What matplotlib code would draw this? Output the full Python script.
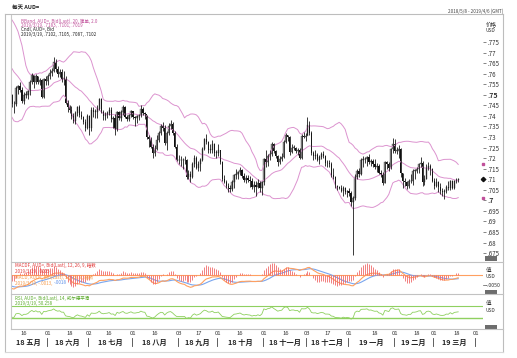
import matplotlib
matplotlib.use('Agg')
import matplotlib.pyplot as plt
import numpy as np
import pandas as pd
from matplotlib.lines import Line2D
from matplotlib.transforms import blended_transform_factory as btf

plt.rcParams['font.family'] = ['Noto Sans CJK SC', 'DejaVu Sans']

# ---------------- data (AUD=, daily, prices in 1/10000 USD) ----------------
start_date = '2018-05-08'
last_date = '2019-03-19'
axis_end = '2019-04-05'

warmup_close = [7850, 7890, 7880, 7850, 7720, 7705, 7700, 7760, 7730, 7715,
                7745, 7705, 7660, 7680, 7680, 7665, 7690, 7700, 7690, 7675,
                7690, 7750, 7770, 7750, 7750, 7785, 7775, 7790, 7750, 7665,
                7625, 7605, 7570, 7560, 7565, 7530, 7470, 7510, 7530, 7520, 7500]

closes = [
    7458, 7455, 7530, 7540, 7525, 7472, 7500, 7500, 7516, 7560, 7595, 7563, 7590, 7560, 7570, 7490, 7575, 7565,
    7590, 7605, 7615, 7655, 7620, 7600, 7610, 7575, 7575, 7460, 7440, 7430, 7400, 7375, 7415, 7440, 7405, 7395, 7370, 7345, 7400,
    7345, 7430, 7420, 7420, 7435, 7480, 7420, 7400, 7410, 7415, 7430, 7385, 7390, 7340, 7420, 7390, 7420, 7440, 7395, 7385, 7405, 7425,
    7395, 7390, 7400, 7405, 7435, 7415, 7410, 7300, 7290, 7255, 7225, 7245, 7285, 7320, 7350, 7345, 7270, 7320, 7350, 7360, 7320, 7255, 7190,
    7190, 7190, 7190, 7190, 7110, 7125, 7110, 7170, 7200, 7155, 7170, 7190, 7245, 7290, 7275, 7240, 7240, 7265, 7225, 7225,
    7240, 7180, 7100, 7085, 7070, 7060, 7055, 7085, 7120, 7125, 7135, 7145, 7115, 7095, 7105, 7095, 7090, 7065, 7075, 7065, 7080, 7060, 7085,
    7195, 7180, 7210, 7220, 7265, 7235, 7210, 7180, 7195, 7205, 7275, 7310, 7300, 7230, 7250, 7250, 7235, 7240, 7200, 7305, 7300, 7305,
    7355, 7320, 7225, 7210, 7215, 7190, 7205, 7220, 7210, 7175, 7175, 7170, 7120, 7110, 7070, 7065, 7060, 7045, 7060, 7040, 7045,
    7035, 6990, 7010, 7110, 7140, 7125, 7190, 7195, 7195, 7205, 7180, 7185, 7170, 7160, 7165, 7130, 7120, 7080, 7180, 7170, 7155, 7245, 7265,
    7235, 7235, 7245, 7130, 7090, 7085, 7070, 7090, 7090, 7140, 7140, 7150, 7170, 7175, 7085, 7100, 7155, 7165, 7150, 7090,
    7070, 7085, 7065, 7045, 7040, 7045, 7065, 7060, 7090, 7060, 7090, 7095, 7102]

highs = [
    7505, 7470, 7540, 7545, 7560, 7535, 7515, 7520, 7525, 7570, 7605, 7595, 7600, 7590, 7580, 7575, 7580, 7590,
    7600, 7620, 7625, 7677, 7670, 7635, 7620, 7620, 7615, 7590, 7475, 7450, 7445, 7415, 7425, 7445, 7450, 7425, 7400, 7385, 7410,
    7405, 7440, 7440, 7435, 7450, 7485, 7485, 7430, 7420, 7425, 7440, 7440, 7400, 7410, 7425, 7425, 7430, 7450, 7445, 7405, 7410, 7430,
    7425, 7400, 7405, 7410, 7450, 7440, 7420, 7405, 7310, 7300, 7265, 7260, 7310, 7330, 7360, 7370, 7355, 7330, 7365, 7380, 7370, 7330, 7265,
    7215, 7210, 7200, 7210, 7195, 7145, 7140, 7180, 7215, 7210, 7185, 7200, 7255, 7295, 7315, 7280, 7265, 7285, 7270, 7240,
    7265, 7240, 7185, 7120, 7095, 7080, 7075, 7095, 7125, 7150, 7140, 7160, 7150, 7130, 7120, 7120, 7115, 7105, 7090, 7090, 7100, 7090, 7090,
    7200, 7240, 7220, 7240, 7275, 7270, 7240, 7215, 7210, 7225, 7285, 7320, 7310, 7305, 7265, 7260, 7255, 7250, 7250, 7315, 7325, 7320,
    7395, 7375, 7330, 7235, 7240, 7225, 7215, 7230, 7235, 7215, 7190, 7190, 7180, 7155, 7115, 7075, 7070, 7075, 7070, 7065, 7050,
    7060, 7045, 7020, 7125, 7150, 7155, 7200, 7210, 7205, 7210, 7220, 7195, 7195, 7195, 7175, 7170, 7145, 7135, 7185, 7185, 7180, 7250, 7295,
    7290, 7255, 7260, 7250, 7130, 7105, 7090, 7100, 7125, 7150, 7150, 7160, 7175, 7205, 7185, 7120, 7170, 7180, 7170, 7155,
    7105, 7105, 7090, 7080, 7060, 7055, 7075, 7090, 7095, 7095, 7095, 7105, 7105]

lows = [
    7440, 7413, 7445, 7505, 7515, 7460, 7455, 7485, 7480, 7500, 7550, 7530, 7550, 7550, 7545, 7485, 7485, 7545,
    7545, 7575, 7590, 7610, 7610, 7585, 7585, 7560, 7545, 7455, 7420, 7415, 7385, 7365, 7360, 7400, 7395, 7385, 7360, 7330, 7340,
    7310, 7330, 7395, 7390, 7390, 7430, 7415, 7380, 7380, 7390, 7405, 7370, 7345, 7310, 7330, 7380, 7375, 7405, 7390, 7375, 7375, 7395,
    7385, 7350, 7365, 7380, 7395, 7405, 7385, 7290, 7255, 7250, 7200, 7210, 7240, 7275, 7310, 7330, 7260, 7240, 7310, 7340, 7310, 7250, 7185,
    7170, 7165, 7150, 7170, 7100, 7100, 7085, 7105, 7160, 7150, 7140, 7140, 7185, 7240, 7265, 7225, 7225, 7225, 7210, 7200,
    7210, 7170, 7090, 7080, 7060, 7040, 7040, 7045, 7060, 7100, 7100, 7120, 7105, 7085, 7080, 7085, 7065, 7055, 7040, 7020, 7060, 7040, 7025,
    7075, 7160, 7165, 7190, 7210, 7225, 7200, 7165, 7170, 7185, 7200, 7270, 7280, 7215, 7225, 7240, 7225, 7215, 7195, 7195, 7295, 7280,
    7310, 7310, 7215, 7190, 7195, 7185, 7170, 7195, 7200, 7165, 7160, 7160, 7110, 7100, 7060, 7050, 7055, 7040, 7020, 7030, 7015,
    7020, 6975, 6740, 7000, 7100, 7110, 7120, 7160, 7175, 7165, 7170, 7165, 7160, 7150, 7135, 7125, 7110, 7075, 7080, 7150, 7140, 7150, 7225,
    7225, 7220, 7200, 7110, 7060, 7070, 7055, 7060, 7080, 7075, 7100, 7130, 7130, 7160, 7070, 7075, 7100, 7145, 7120, 7085,
    7055, 7065, 7040, 7030, 7020, 7005, 7035, 7050, 7050, 7055, 7055, 7080, 7087]

tick_dates = ['2018-05-16', '2018-06-01', '2018-06-18', '2018-07-02', '2018-07-16', '2018-08-01',
              '2018-08-16', '2018-09-03', '2018-09-17', '2018-10-01', '2018-10-16', '2018-11-01',
              '2018-11-16', '2018-12-03', '2018-12-17', '2019-01-01', '2019-01-18', '2019-02-01',
              '2019-02-18', '2019-03-01', '2019-03-18', '2019-04-01']
tick_labels = ['16', '01', '18', '02', '16', '01', '16', '03', '17', '01', '16', '01',
               '16', '03', '17', '01', '18', '01', '18', '01', '18', '01']
month_starts = ['2018-05-08', '2018-06-01', '2018-07-02', '2018-08-01', '2018-09-03', '2018-10-01',
                '2018-11-01', '2018-12-03', '2019-01-01', '2019-02-01', '2019-03-01', '2019-04-01']
month_labels = ['18 五月', '18 六月', '18 七月', '18 八月', '18 九月', '18 十月',
                '18 十一月', '18 十二月', '19 一月', '19 二月', '19 三月']
price_ticks = [0.675, 0.68, 0.685, 0.69, 0.695, 0.70, 0.705, 0.71, 0.715, 0.72, 0.725,
               0.73, 0.735, 0.74, 0.745, 0.75, 0.755, 0.76, 0.765, 0.77, 0.775]
price_tick_labels = ['.675', '.68', '.685', '.69', '.695', '.7', '.705', '.71', '.715', '.72', '.725',
                     '.73', '.735', '.74', '.745', '.75', '.755', '.76', '.765', '.77', '.775']

# ---------------- derived series ----------------
c = np.array(closes) / 1e4
h = np.array(highs) / 1e4
l = np.array(lows) / 1e4
o = np.array((warmup_close[-1:] + closes)[:-1]) / 1e4   # FX: open = prior close
n = len(c)
x = np.arange(n)
full_idx = pd.bdate_range(start_date, axis_end)
pos = {d: i for i, d in enumerate(full_idx)}

allc = pd.Series(np.concatenate([np.array(warmup_close) / 1e4, c]))
w = len(warmup_close)
mid = allc.rolling(20).mean()
sd = allc.rolling(20).std(ddof=0)
up_b = (mid + 2 * sd).values[w:]
lo_b = (mid - 2 * sd).values[w:]
mid_b = mid.values[w:]
ema12 = allc.ewm(span=12, adjust=False).mean()
ema26 = allc.ewm(span=26, adjust=False).mean()
macd = ema12 - ema26
sig = macd.ewm(span=9, adjust=False).mean()
hist = (macd - sig).values[w:]
macd = macd.values[w:]
sig = sig.values[w:]
d = allc.diff()
gain = d.clip(lower=0).ewm(alpha=1 / 14, adjust=False).mean()
loss = (-d.clip(upper=0)).ewm(alpha=1 / 14, adjust=False).mean()
rsi = (100 - 100 / (1 + gain / loss)).values[w:]

# ---------------- figure ----------------
W, H = 517, 358
fig = plt.figure(figsize=(W / 100, H / 100), dpi=100)
fig.patch.set_facecolor('white')


def axrect(x0, y0, x1, y1):
    return [x0 / W, 1 - y1 / H, (x1 - x0) / W, (y1 - y0) / H]


def fline(x0, y0, x1, y1, color='#bdbdbd', lw=0.8):
    fig.add_artist(Line2D([x0 / W, x1 / W], [1 - y0 / H, 1 - y1 / H], color=color, lw=lw))


def ftext(xp, yp, s, **kw):
    return fig.text(xp / W, 1 - yp / H, s, **kw)


XL, XR = 11, 483
xlim = (-0.5, 237.5)

ax = fig.add_axes(axrect(XL, 15, XR, 262))
axm = fig.add_axes(axrect(XL, 262, XR, 294))
axr = fig.add_axes(axrect(XL, 294, XR, 329))
for a in (ax, axm, axr):
    a.set_xlim(*xlim)
    a.set_xticks([])
    for s in a.spines.values():
        s.set_visible(False)
    a.set_facecolor('none')

# main price panel
ax.set_ylim(0.6708, 0.7878)
band_col = '#dc93cf'
ax.plot(x, up_b, color=band_col, lw=0.7)
ax.plot(x, mid_b, color=band_col, lw=0.7)
ax.plot(x, lo_b, color=band_col, lw=0.7)
ax.vlines(x, l, h, color='#1a1a1a', lw=0.6)
upc = c >= o
body_lo = np.minimum(o, c)
body_h = np.maximum(np.abs(c - o), 0.00025)
ax.bar(x[upc], body_h[upc], bottom=body_lo[upc], width=0.65, color='#9a9a9a', edgecolor='#303030', lw=0.25)
ax.bar(x[~upc], body_h[~upc], bottom=body_lo[~upc], width=0.65, color='#111111', lw=0)

ax.yaxis.tick_right()
ax.set_yticks(price_ticks)
ax.set_yticklabels(price_tick_labels)
ax.tick_params(axis='y', direction='out', length=2.5, width=0.5, color='#555555', pad=1,
               labelsize=4.4, labelcolor='#333333')
for lab in ax.get_yticklabels():
    if lab.get_text() in ('.75', '.7'):
        lab.set_fontweight('bold')
        lab.set_fontsize(5.0)
tr = btf(ax.transAxes, ax.transData)
ax.plot([1.0], [up_b[-1]], marker='s', ms=2, color='#c0509a', transform=tr, clip_on=False)
ax.plot([1.0], [lo_b[-1]], marker='s', ms=2, color='#c0509a', transform=tr, clip_on=False)
ax.plot([1.0], [c[-1]], marker='D', ms=2.2, color='#111111', transform=tr, clip_on=False)

# MACD panel
axm.set_ylim(-0.0095, 0.0065)
axm.axhline(0, color='#ffa060', lw=0.8)
axh = axm.twinx()
axh.set_xlim(*xlim)
axh.set_ylim(-0.0095 / 2.6, 0.0065 / 2.6)
axh.vlines(x, 0, hist, color='#f06a6a', lw=0.6)
axh.axis('off')
axm.plot(x, sig, color='#7aa6ee', lw=0.8)
axm.plot(x, macd, color='#ffa060', lw=0.8)
axm.set_yticks([])

# RSI panel
axr.set_ylim(-6.7, 110)
axr.axhline(70, color='#8fd060', lw=0.8)
axr.axhline(30, color='#8fd060', lw=1.0)
axr.plot(x, rsi, color='#8fd060', lw=0.6)
axr.set_yticks([])

# ---------------- frame lines ----------------
fline(5, 14, 503, 14)
fline(5, 14, 5, 352)
fline(503, 14, 503, 352)
fline(5, 352, 503, 352, color='#d8d8d8')
fline(XL, 15, XL, 329, color='#c8c8c8')
for yy in (262, 294, 329):
    fline(XL, yy, 503, yy, color='#c2c2c2')

# header
ftext(12, 8.5, '每天 AUD=', fontsize=4.0, fontweight='bold', va='center', color='#222222')
ftext(503, 11, '2018/5/8 - 2019/4/6 (GMT)', fontsize=3.3, ha='right', va='center', color='#444444')

# legends
fs = 3.25
pink = '#c0509a'
ftext(21, 21, 'BBand, AUD=, Bid(Last), 20, 简单, 2.0', fontsize=fs, color=pink, va='center')
ftext(21, 25.5, '2019/3/19, .7183, .7101, .7019', fontsize=fs, color=pink, va='center')
ftext(21, 30, 'Cndl, AUD=, Bid', fontsize=fs, color='#222222', va='center')
ftext(21, 34.5, '2019/3/19, .7102, .7105, .7087, .7102', fontsize=fs, color='#222222', va='center')

ftext(15, 265.5, 'MACDF, AUD=, Bid(Last), 12, 26, 9, 指数', fontsize=fs, color='#e23a3a', va='center')
ftext(15, 271, '2019/3/19, .0005', fontsize=fs, color='#e23a3a', va='center')
ftext(15, 277, 'MACD, AUD=, Bid(Last), 12, 26, 9, 指数', fontsize=fs, color='#f59a4a', va='center')
t_or = ftext(15, 283, '2019/3/19, -.0013,', fontsize=fs, color='#f59a4a', va='center')
fig.canvas.draw()
bb = t_or.get_window_extent(fig.canvas.get_renderer())
ftext(bb.x1 * 100 / fig.dpi + 1.5, 283, '-.0018', fontsize=fs, color='#5b8ee8', va='center')

ftext(15, 298, 'RSI, AUD=, Bid(Last), 14, 威尔德平滑', fontsize=fs, color='#5aaa2a', va='center')
ftext(15, 303.5, '2019/3/19, 50.258', fontsize=fs, color='#5aaa2a', va='center')

# right side labels
ftext(486, 24, '价格', fontsize=4.0, color='#333333', va='center')
ftext(486, 31, 'USD', fontsize=3.5, color='#333333', va='center')
ftext(486, 270, '值', fontsize=4.0, color='#333333', va='center')
ftext(486, 277, 'USD', fontsize=3.5, color='#333333', va='center')
fline(483, 285, 485.5, 285, color='#555555', lw=0.5)
ftext(486, 285.5, '-.0050', fontsize=3.8, color='#333333', va='center')
ftext(486, 303, '值', fontsize=4.0, color='#333333', va='center')
ftext(486, 310, 'USD', fontsize=3.5, color='#333333', va='center')
for yy in (258, 292, 327):
    fig.add_artist(plt.Rectangle((485 / W, 1 - (yy + 2.5) / H), 12 / W, 5 / H,
                                 facecolor='#6d6d6d', edgecolor='none'))

# date axis
trx = btf(axr.transData, fig.transFigure)
for dstr, lab in zip(tick_dates, tick_labels):
    xi = pos[pd.Timestamp(dstr)]
    axr.text(xi, 1 - 333.5 / H, lab, transform=trx, fontsize=4.2, ha='center', va='center',
             color='#333333', clip_on=False)
ms = [pos[pd.Timestamp(m)] - 0.5 for m in month_starts]
for k, lab in enumerate(month_labels):
    xc = (max(ms[k], xlim[0]) + ms[k + 1]) / 2
    axr.text(xc, 1 - 342 / H, lab, transform=trx, fontsize=5.2, fontweight='bold', ha='center',
             va='center', color='#222222', clip_on=False)
for m in ms[1:]:
    axr.plot([m, m], [1 - 338 / H, 1 - 346 / H], transform=trx, color='#444444', lw=0.6, clip_on=False)

fig.savefig('out.png', dpi=100)
